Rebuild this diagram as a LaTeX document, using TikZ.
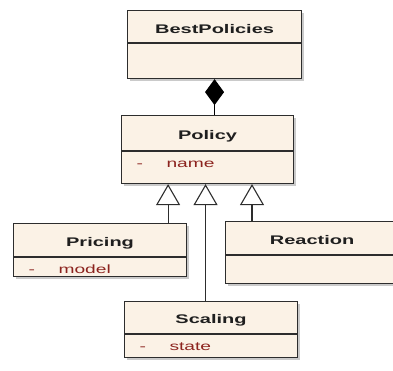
\documentclass[tikz,border=0pt]{standalone}
\usepackage{fontspec}
\newfontfamily\umlsans[FakeStretch=1.6]{Liberation Sans}
\usetikzlibrary{arrows.meta, calc, positioning, shadows}

\definecolor{classfill}{RGB}{251,242,230}
\definecolor{classline}{RGB}{45,45,45}
\definecolor{attrred}{RGB}{140,35,30}

\begin{document}
\begin{tikzpicture}[x=1pt,y=-1pt,
    classbox/.style={draw=classline, fill=classfill, line width=1.1pt, inner sep=0pt, anchor=north west,
        drop shadow={shadow xshift=2.5pt, shadow yshift=-2.5pt, fill=black!35, opacity=0.6}},
    divider/.style={draw=classline, line width=1.1pt},
    title/.style={anchor=base, text=black!88, font=\umlsans\bfseries\fontsize{12.5}{14}\selectfont},
    attr/.style={anchor=base west, text=attrred, font=\umlsans\fontsize{12}{14}\selectfont},
    inherit/.style={draw=classline, line width=1.1pt, -{Triangle[open, length=21pt, width=24pt, fill=white]}},
    compose/.style={draw=black, line width=1.1pt, -{Diamond[length=26pt, width=19pt]}}
]
        \useasboundingbox (0,0) rectangle (393,370);
        \clip (0,0) rectangle (393,370);

        % 1. BestPolicies
        \node[classbox, minimum width=174pt, minimum height=68pt] (best) at (127,10) {};
        \draw[divider] ($(best.north west)+(0,33)$) -- ($(best.north east)+(0,33)$);
        \node[title] (best-name) at ($(best.north)+(0,23)$) {BestPolicies};

        % 2. Policy
        \node[classbox, minimum width=172pt, minimum height=68pt] (policy) at (121,115) {};
        \draw[divider] ($(policy.north west)+(0,36)$) -- ($(policy.north east)+(0,36)$);
        \node[title] (policy-name) at ($(policy.north)+(0,24)$) {Policy};
        \node[attr] (policy-vis) at ($(policy.north west)+(12,52)$) {-};
        \node[attr] (policy-attr) at ($(policy.north west)+(42,52)$) {name};

        % 3. Pricing
        \node[classbox, minimum width=173pt, minimum height=53pt] (pricing) at (13,223) {};
        \draw[divider] ($(pricing.north west)+(0,34)$) -- ($(pricing.north east)+(0,34)$);
        \node[title] (pricing-name) at ($(pricing.north)+(0,23)$) {Pricing};
        \node[attr] (pricing-vis) at ($(pricing.north west)+(12,50)$) {-};
        \node[attr] (pricing-attr) at ($(pricing.north west)+(42,50)$) {model};

        % 4. Reaction (runs off the right edge)
        \node[classbox, minimum width=173pt, minimum height=62pt] (reaction) at (225,221) {};
        \draw[divider] ($(reaction.north west)+(0,34)$) -- ($(reaction.north east)+(0,34)$);
        \node[title] (reaction-name) at ($(reaction.north)+(0,23)$) {Reaction};

        % 5. Scaling
        \node[classbox, minimum width=173pt, minimum height=56pt] (scaling) at (124,301) {};
        \draw[divider] ($(scaling.north west)+(0,33)$) -- ($(scaling.north east)+(0,33)$);
        \node[title] (scaling-name) at ($(scaling.north)+(0,22.5)$) {Scaling};
        \node[attr] (scaling-vis) at ($(scaling.north west)+(12,49)$) {-};
        \node[attr] (scaling-attr) at ($(scaling.north west)+(42,49)$) {state};

        % 6. Composition
        \draw[compose] (best.south |- policy.north) -- (best.south);

        % 7. Generalisations
        \draw[inherit] ([xshift=-19pt]pricing.north east) -- ([xshift=-19pt]pricing.north east |- policy.south);
        \draw[inherit] ([xshift=-5.5pt]scaling.north) -- ([xshift=-5.5pt]scaling.north |- policy.south);
        \draw[inherit] ([xshift=27pt]reaction.north west) -- ([xshift=27pt]reaction.north west |- policy.south);
\end{tikzpicture}
\end{document}
